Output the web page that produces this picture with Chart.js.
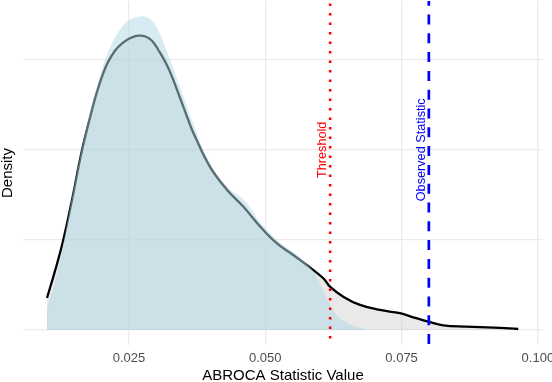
<!DOCTYPE html>
<html>
<head>
<meta charset="utf-8">
<script src="https://cdn.jsdelivr.net/npm/chart.js@4"></script>
<style>
  html, body { margin: 0; padding: 0; background: #fff; }
</style>
</head>
<body>
<canvas id="densityChart" width="552" height="382"></canvas>
<script>
// null distribution density (black line, gray fill)
const nullX = [0.00996, 0.01143, 0.01295, 0.01455, 0.01632, 0.01785, 0.01931, 0.02091, 0.02243, 0.0239,
  0.02537, 0.02665, 0.02793, 0.02922, 0.03037, 0.03221, 0.03404, 0.03588, 0.0368, 0.03986,
  0.04292, 0.04596, 0.04903, 0.05209, 0.05513, 0.05759, 0.06064, 0.06186, 0.0643, 0.06737,
  0.07103, 0.0747, 0.07714, 0.07989, 0.08264, 0.08693, 0.09181, 0.0964];
const nullY = [3.56, 6.56, 10.0, 14.44, 19.78, 23.56, 26.78, 29.44, 31.0, 31.89,
  32.44, 32.67, 32.61, 32.11, 31.11, 29.08, 26.3, 23.3, 21.9, 18.1,
  15.6, 13.7, 11.5, 9.63, 8.33, 7.22, 5.74, 4.81, 3.7, 2.78,
  2.22, 1.86, 1.41, 0.92, 0.52, 0.37, 0.26, 0.11];

// light blue density
const blueX = [0.00996, 0.01143, 0.01295, 0.01455, 0.01638, 0.01785, 0.01931, 0.02078, 0.02243, 0.0239,
  0.02537, 0.02665, 0.02793, 0.02922, 0.03032, 0.0316, 0.03289, 0.03399, 0.03527, 0.0365,
  0.03986, 0.04297, 0.04628, 0.04903, 0.05215, 0.05508, 0.05728, 0.05912, 0.06058, 0.06242,
  0.0637, 0.06499, 0.06683, 0.06866, 0.07105];
const blueY = [2.44, 5.33, 9.56, 14.78, 20.33, 24.11, 27.44, 30.22, 32.44, 33.78,
  34.5, 34.78, 34.78, 34.33, 33.33, 31.44, 29.44, 27.56, 25.44, 23.33,
  18.44, 15.89, 14.33, 12.0, 10.0, 8.67, 7.56, 6.22, 4.44, 2.22,
  1.33, 0.78, 0.33, 0.06, 0];

const threshold = 0.0619;
const observed = 0.0800;
const labelY = 20;

const xTicks = [0.025, 0.050, 0.075, 0.100];
const yTicks = [0, 10, 20, 30];
const xMin = 0.00556, xMax = 0.10094;
const yMin = -1.667, yMax = 36.52;

const toPoints = (xs, ys) => xs.map((v, i) => ({ x: v, y: ys[i] }));

// rotated labels next to the vertical lines
const vlineLabels = {
  id: 'vlineLabels',
  afterDatasetsDraw(chart) {
    const { ctx, scales: { x, y } } = chart;
    const labels = [
      { text: 'Threshold', value: threshold, color: 'red' },
      { text: 'Observed Statistic', value: observed, color: 'blue' }
    ];
    ctx.save();
    ctx.font = '12.7px "Liberation Sans", Arial, sans-serif';
    ctx.textAlign = 'center';
    ctx.textBaseline = 'alphabetic';
    labels.forEach(l => {
      ctx.save();
      ctx.translate(x.getPixelForValue(l.value) - 4, y.getPixelForValue(labelY));
      ctx.rotate(-Math.PI / 2);
      ctx.fillStyle = l.color;
      ctx.fillText(l.text, 0, 0);
      ctx.restore();
    });
    ctx.restore();
  }
};

const ctx = document.getElementById('densityChart').getContext('2d');

new Chart(ctx, {
  type: 'line',
  data: {
    datasets: [
      {
        label: 'Null density',
        data: toPoints(nullX, nullY),
        borderColor: '#000000',
        borderWidth: 2.3,
        backgroundColor: 'rgba(200, 200, 200, 0.4)',
        fill: 'origin',
        pointRadius: 0,
        tension: 0.4,
        order: 3
      },
      {
        label: 'Blue density',
        data: toPoints(blueX, blueY),
        borderWidth: 0,
        borderColor: 'rgba(0,0,0,0)',
        backgroundColor: 'rgba(173, 216, 230, 0.5)',
        fill: 'origin',
        pointRadius: 0,
        tension: 0.4,
        order: 2
      },
      {
        label: 'Threshold',
        data: [{ x: threshold, y: yMax }, { x: threshold, y: yMin }],
        borderColor: '#ff0000',
        borderWidth: 2.6,
        borderDash: [2.5, 7],
        borderDashOffset: 7.05,
        borderCapStyle: 'butt',
        pointRadius: 0,
        fill: false,
        order: 1
      },
      {
        label: 'Observed',
        data: [{ x: observed, y: yMax }, { x: observed, y: yMin }],
        borderColor: '#0000ff',
        borderWidth: 2.7,
        borderDash: [10, 8.8],
        borderDashOffset: 5.3,
        borderCapStyle: 'butt',
        pointRadius: 0,
        fill: false,
        order: 0
      }
    ]
  },
  options: {
    responsive: false,
    animation: false,
    layout: { padding: { top: 1, right: 9, bottom: 0, left: 0 } },
    plugins: {
      legend: { display: false },
      tooltip: { enabled: false }
    },
    scales: {
      x: {
        type: 'linear',
        min: xMin,
        max: xMax,
        afterBuildTicks: scale => { scale.ticks = xTicks.map(v => ({ value: v })); },
        afterFit: scale => { scale.height = 37; scale.paddingLeft = 0; scale.paddingRight = 0; },
        grid: { color: '#ebebeb', lineWidth: 1.3, drawTicks: false },
        border: { display: false },
        ticks: {
          padding: 6,
          color: '#4d4d4d',
          font: { family: '"Liberation Sans", Arial, sans-serif', size: 13 },
          maxRotation: 0,
          callback: v => v.toFixed(3)
        },
        title: {
          display: true,
          text: 'ABROCA Statistic Value',
          color: '#000000',
          font: { family: '"Liberation Sans", Arial, sans-serif', size: 15, lineHeight: 1.2 },
          padding: { top: 0, bottom: -2.8 }
        }
      },
      y: {
        type: 'linear',
        min: yMin,
        max: yMax,
        afterBuildTicks: scale => { scale.ticks = yTicks.map(v => ({ value: v })); },
        afterFit: scale => { scale.width = 23; },
        grid: { color: '#ebebeb', lineWidth: 1.3, drawTicks: false },
        border: { display: false },
        ticks: { display: false },
        title: {
          display: true,
          text: 'Density',
          color: '#000000',
          font: { family: '"Liberation Sans", Arial, sans-serif', size: 15, lineHeight: 1 },
          padding: { top: 0, bottom: 0 }
        }
      }
    }
  },
  plugins: [vlineLabels]
});
</script>
</body>
</html>
